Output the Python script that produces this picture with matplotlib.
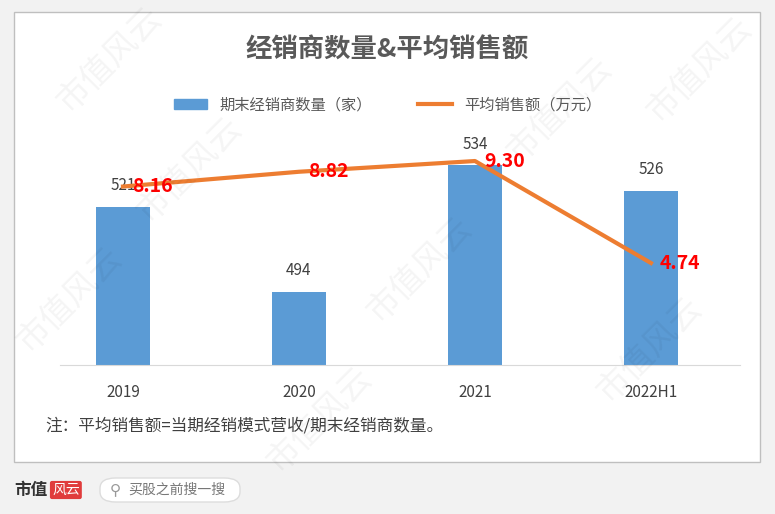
import matplotlib
matplotlib.use("Agg")
import matplotlib.pyplot as plt
from matplotlib.patches import Rectangle, FancyBboxPatch
from matplotlib.lines import Line2D

plt.rcParams['font.family'] = 'Noto Sans CJK SC'

categories = ["2019", "2020", "2021", "2022H1"]
dealers = [521, 494, 534, 526]
avg_sales = [8.16, 8.82, 9.30, 4.74]
title = "经销商数量&平均销售额"
bar_label = "期末经销商数量（家）"
line_label = "平均销售额（万元）"
note = "注：平均销售额=当期经销模式营收/期末经销商数量。"

W, H = 775, 514
fig = plt.figure(figsize=(W/100, H/100), dpi=100)
fig.patch.set_facecolor("#f2f2f2")
def fx(x): return x / W
def fy(y): return 1 - y / H

panel = Rectangle((fx(14), fy(462)), fx(760)-fx(14), fy(12)-fy(462),
                  transform=fig.transFigure, facecolor="white", edgecolor="#bfbfbf", lw=1, zorder=-10)
fig.patches.append(panel)

ax = fig.add_axes([fx(60), fy(365), fx(740)-fx(60), fy(140)-fy(365)])
ax.set_zorder(2)
x = range(len(categories))
ax.bar(x, dealers, width=0.31, color="#5b9bd5", zorder=2)
ax.set_ylim(471, 542)
ax.set_xlim(-0.358, 3.506)
for i, v in enumerate(dealers):
    ax.text(i, v + 4, str(v), ha="center", va="bottom", fontsize=11, color="#404040")
for s in ["top", "right", "left"]:
    ax.spines[s].set_visible(False)
ax.spines["bottom"].set_color("#d9d9d9")
ax.set_yticks([])
ax.set_xticks(list(x))
ax.set_xticklabels(categories, fontsize=11, color="#404040")
ax.tick_params(axis="x", length=0, pad=14)
ax.patch.set_alpha(0)

ax2 = ax.twinx()
ax2.plot(list(x), avg_sales, color="#ed7d31", lw=3, zorder=3)
ax2.set_ylim(0.18, 10.24)
ax2.axis("off")
for i, v in enumerate(avg_sales):
    ax2.text(i + 0.05, v, f"{v:.2f}", ha="left", va="center", fontsize=14,
             color="#ff0000", fontweight="bold", style="italic", zorder=4)

# watermarks
for (wx, wy) in [(70, 300), (190, 170), (320, 420), (420, 270), (560, 110), (650, 350), (700, 70), (110, 60)]:
    fig.text(fx(wx), fy(wy), "市值风云", fontsize=24, color="#000000", alpha=0.045, rotation=45,
             ha="center", va="center", zorder=5)

fig.text(0.5, fy(50), title, ha="center", va="center", fontsize=19, fontweight="bold", color="#595959")

h1 = Rectangle((0, 0), 1, 1, color="#5b9bd5")
h2 = Line2D([], [], color="#ed7d31", lw=3)
fig.legend([h1, h2], [bar_label, line_label], loc="center", bbox_to_anchor=(0.5, fy(105)),
           ncol=2, frameon=False, fontsize=11, labelcolor="#595959", columnspacing=3,
           handlelength=2.2)

fig.text(fx(45), fy(426), note, ha="left", va="center", fontsize=12, color="#404040")

fig.text(fx(14), fy(490), "市值", ha="left", va="center", fontsize=12, fontweight="bold", color="#333333")
fig.text(fx(52), fy(490), "风云", ha="left", va="center", fontsize=10, color="white",
         bbox=dict(facecolor="#e03c3c", edgecolor="none", boxstyle="round,pad=0.15"))
fig.patches.append(FancyBboxPatch((fx(100), fy(502)), fx(240)-fx(100), fy(478)-fy(502),
                                  boxstyle="round,pad=0,rounding_size=0.02", transform=fig.transFigure,
                                  facecolor="white", edgecolor="#dddddd"))
fig.text(fx(110), fy(490), "⚲", ha="left", va="center", fontsize=11, color="#999999", family="DejaVu Sans")
fig.text(fx(128), fy(490), "买股之前搜一搜", ha="left", va="center", fontsize=10, color="#777777")

fig.savefig("out.png", dpi=100, facecolor=fig.get_facecolor())
